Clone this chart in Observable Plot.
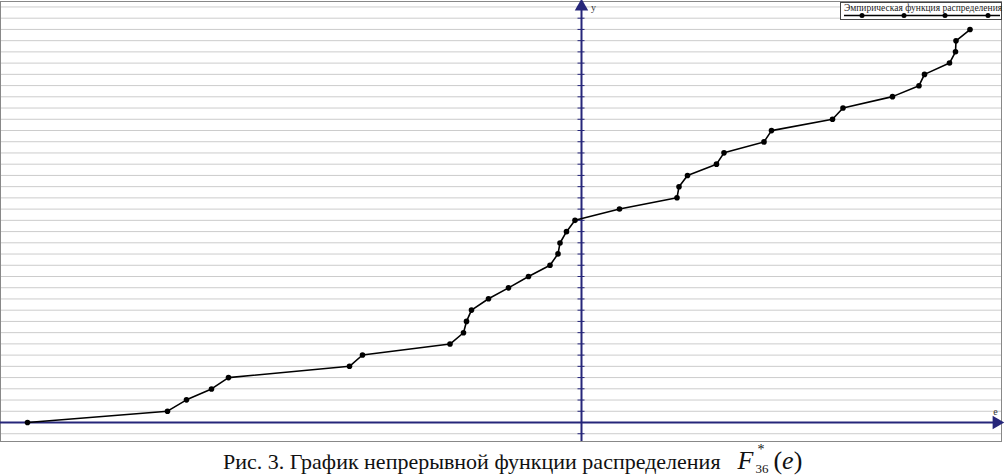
<!DOCTYPE html>
<html><head><meta charset="utf-8">
<script src="https://cdn.jsdelivr.net/npm/d3@7"></script>
<script src="https://cdn.jsdelivr.net/npm/@observablehq/plot@0.6"></script>
<style>
body{margin:0;background:#fff;}
#wrap{position:relative;width:1005px;}
#legend{position:absolute;left:840px;top:2px;width:162px;height:18px;border:1px solid #444;background:#fff;box-sizing:border-box;}
#legend span{position:absolute;left:3px;top:0px;font:9.5px "Liberation Serif",serif;color:#222;white-space:nowrap;}
#legend svg{position:absolute;left:0;top:0;}
#cap{font:22px "Liberation Serif","Times New Roman",serif;color:#111;padding-left:223px;margin-top:2px;line-height:30px;white-space:nowrap;}
.fm{font-size:26px;margin-left:6px;}
.f{position:relative;display:inline-block;padding-right:20px;}
.f .sup{position:absolute;left:20px;top:-3px;font-size:14px;line-height:14px;}
.f .sub{position:absolute;left:18px;top:16px;font-size:13px;line-height:13px;}
</style></head>
<body>
<div id="wrap"><div id="chart"></div>
<div id="legend"><span>Эмпирическая функция распределения</span><svg width="162" height="18"></svg></div>
</div>
<div id="cap">Рис. 3. График непрерывной функции распределения&nbsp;&nbsp;<span class="fm"><span class="f"><i>F</i><span class="sup">*</span><span class="sub">36</span></span>(<i>e</i>)</span></div>
<script>
const eValues = [-5.54,-4.14,-3.95,-3.70,-3.53,-2.32,-2.19,-1.315,-1.18,-1.15,-1.10,-0.93,-0.73,-0.53,-0.315,-0.235,-0.215,-0.15,-0.065,0.38,0.955,0.975,1.06,1.35,1.425,1.825,1.90,2.51,2.615,3.11,3.375,3.43,3.68,3.74,3.745,3.885];
const fValues = [0,0.028,0.056,0.083,0.111,0.139,0.167,0.194,0.222,0.25,0.278,0.306,0.333,0.361,0.389,0.417,0.444,0.472,0.5,0.528,0.556,0.583,0.611,0.639,0.667,0.694,0.722,0.75,0.778,0.806,0.833,0.861,0.889,0.917,0.944,0.972];
const gridTicks = d3.range(-1, 38).map(k => k / 36);
const legendLabel = "Эмпирическая функция распределения";

const data = eValues.map((e, i) => ({e, F: fValues[i]}));
const xDom = [-5.81, 4.20], yDom = [-0.047, 1.0413];
const axisColor = "#26267a";

const chart = Plot.plot({
  width: 1005, height: 444,
  marginLeft: 0, marginRight: 4, marginTop: 1, marginBottom: 3,
  x: {domain: xDom, axis: null},
  y: {domain: yDom, axis: null},
  marks: [
    Plot.ruleY(gridTicks, {stroke: "#cccccc", strokeWidth: 1}),
    Plot.frame({stroke: "#888"}),
    Plot.ruleY([0], {stroke: axisColor, strokeWidth: 2}),
    Plot.ruleX([0], {stroke: axisColor, strokeWidth: 2}),
    Plot.ruleY(gridTicks, {x1: -0.035, x2: 0.035, stroke: axisColor, strokeWidth: 1}),
    Plot.dot([{e: xDom[1], F: 0}], {x: "e", y: "F", symbol: "triangle", rotate: 90, r: 5, fill: axisColor, dx: -5}),
    Plot.dot([{e: 0, F: yDom[1]}], {x: "e", y: "F", symbol: "triangle", r: 5, fill: axisColor, dy: 5}),
    Plot.text(["e"], {x: xDom[1], y: 0, dx: -6, dy: -11, fontSize: 10, fontFamily: "Liberation Serif", fill: "#333"}),
    Plot.text(["y"], {x: 0, y: yDom[1], dx: 12, dy: 6, fontSize: 10, fontFamily: "Liberation Serif", fill: "#333"}),
    Plot.line(data, {x: "e", y: "F", stroke: "#000", strokeWidth: 1.6}),
    Plot.dot(data, {x: "e", y: "F", r: 2.8, fill: "#000"})
  ]
});
document.getElementById("chart").appendChild(chart);

// legend sample
const lsvg = d3.select("#legend svg");
lsvg.append("line").attr("x1", 3).attr("x2", 159).attr("y1", 12.5).attr("y2", 12.5).attr("stroke", "#000").attr("stroke-width", 1.5);
[21, 63, 104, 147].forEach(x => lsvg.append("circle").attr("cx", x).attr("cy", 12.5).attr("r", 2.5).attr("fill", "#000"));
</script>
</body></html>
